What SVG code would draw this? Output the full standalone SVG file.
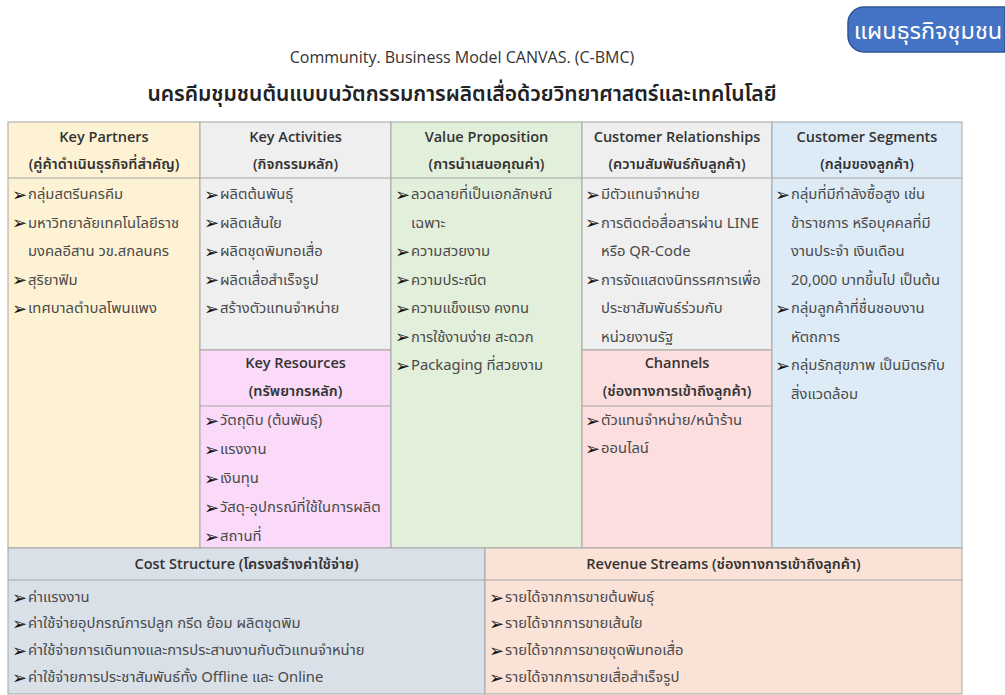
<svg xmlns="http://www.w3.org/2000/svg" width="1005" height="695" viewBox="0 0 1005 695">
<style>
.cell{stroke:#a6a6a6;stroke-width:1}
.div{stroke:#a6a6a6;stroke-width:1;fill:none}
.hd{font-family:"Open Sans","Noto Sans","Noto Sans Thai",sans-serif;font-size:14.5px;font-weight:600;fill:#333;text-anchor:middle}
.it{font-family:"Noto Sans","Noto Sans Thai",sans-serif;font-size:14.8px;fill:#4a4a4a}
.bl{font-family:"DejaVu Sans",sans-serif;font-size:18px;fill:#111}
.sub{font-family:"Open Sans","Noto Sans",sans-serif;font-size:16px;fill:#333;text-anchor:middle}
.ttl{font-family:"Noto Sans","Noto Sans Thai",sans-serif;font-size:21px;font-weight:600;fill:#222;text-anchor:middle}
</style>
<rect width="1005" height="695" fill="#ffffff"/>
<g id="badge">
<path d="M864,7 H1005 V52 H864 A16,16 0 0 1 848,36 V23 A16,16 0 0 1 864,7 Z" fill="#4472C4" stroke="#2F5597" stroke-width="1.5"/>
<text x="928" y="39" font-family="Noto Sans, Noto Sans Thai, sans-serif" font-size="23.5" fill="#ffffff" text-anchor="middle">แผนธุรกิจชุมชน</text>
</g>
<g id="title">
<text class="sub" x="462" y="63">Community. Business Model CANVAS. (C-BMC)</text>
<text class="ttl" x="462" y="101">นครคีมชุมชนต้นแบบนวัตกรรมการผลิตเสื่อด้วยวิทยาศาสตร์และเทคโนโลยี</text>
</g>
<g id="key-partners">
<rect class="cell" x="8" y="122" width="192" height="426" fill="#FEF2D4"/>
<line class="div" x1="8" y1="178" x2="200" y2="178"/>
<text class="hd" x="104" y="142">Key Partners</text>
<text class="hd" x="104" y="169">(คู่ค้าดำเนินธุรกิจที่สำคัญ)</text>
<text class="bl" x="12" y="200.5">➢</text><text class="it" x="28" y="199">กลุ่มสตรีนครคีม</text>
<text class="bl" x="12" y="229">➢</text><text class="it" x="28" y="227.5">มหาวิทยาลัยเทคโนโลยีราช</text>
<text class="it" x="28" y="256">มงคลอีสาน วข.สกลนคร</text>
<text class="bl" x="12" y="286">➢</text><text class="it" x="28" y="284.5">สุริยาฟิม</text>
<text class="bl" x="12" y="314.5">➢</text><text class="it" x="28" y="313">เทศบาลตำบลโพนแพง</text>
</g>
<g id="key-activities">
<rect class="cell" x="200" y="122" width="191" height="228" fill="#EFEFEF"/>
<line class="div" x1="200" y1="178" x2="391" y2="178"/>
<text class="hd" x="295.5" y="142">Key Activities</text>
<text class="hd" x="295.5" y="169">(กิจกรรมหลัก)</text>
<text class="bl" x="204" y="200.5">➢</text><text class="it" x="220" y="199">ผลิตต้นพันธุ์</text>
<text class="bl" x="204" y="229">➢</text><text class="it" x="220" y="227.5">ผลิตเส้นใย</text>
<text class="bl" x="204" y="257.5">➢</text><text class="it" x="220" y="256">ผลิตชุดพิมทอเสื่อ</text>
<text class="bl" x="204" y="286">➢</text><text class="it" x="220" y="284.5">ผลิตเสื่อสำเร็จรูป</text>
<text class="bl" x="204" y="314.5">➢</text><text class="it" x="220" y="313">สร้างตัวแทนจำหน่าย</text>
</g>
<g id="key-resources">
<rect class="cell" x="200" y="350" width="191" height="198" fill="#FADAF8"/>
<line class="div" x1="200" y1="406" x2="391" y2="406"/>
<text class="hd" x="295.5" y="368">Key Resources</text>
<text class="hd" x="295.5" y="396">(ทรัพยากรหลัก)</text>
<text class="bl" x="204" y="426.5">➢</text><text class="it" x="220" y="425">วัตถุดิบ (ต้นพันธุ์)</text>
<text class="bl" x="204" y="455.5">➢</text><text class="it" x="220" y="454">แรงงาน</text>
<text class="bl" x="204" y="484.5">➢</text><text class="it" x="220" y="483">เงินทุน</text>
<text class="bl" x="204" y="513.5">➢</text><text class="it" x="220" y="512">วัสดุ-อุปกรณ์ที่ใช้ในการผลิต</text>
<text class="bl" x="204" y="542.5">➢</text><text class="it" x="220" y="541">สถานที่</text>
</g>
<g id="value-proposition">
<rect class="cell" x="391" y="122" width="191" height="426" fill="#E2EFDA"/>
<line class="div" x1="391" y1="178" x2="582" y2="178"/>
<text class="hd" x="486.5" y="142">Value Proposition</text>
<text class="hd" x="486.5" y="169">(การนำเสนอคุณค่า)</text>
<text class="bl" x="395" y="200.5">➢</text><text class="it" x="411" y="199">ลวดลายที่เป็นเอกลักษณ์</text>
<text class="it" x="411" y="227.5">เฉพาะ</text>
<text class="bl" x="395" y="257.5">➢</text><text class="it" x="411" y="256">ความสวยงาม</text>
<text class="bl" x="395" y="286">➢</text><text class="it" x="411" y="284.5">ความประณีต</text>
<text class="bl" x="395" y="314.5">➢</text><text class="it" x="411" y="313">ความแข็งแรง คงทน</text>
<text class="bl" x="395" y="343">➢</text><text class="it" x="411" y="341.5">การใช้งานง่าย สะดวก</text>
<text class="bl" x="395" y="371.5">➢</text><text class="it" x="411" y="370">Packaging ที่สวยงาม</text>
</g>
<g id="customer-relationships">
<rect class="cell" x="582" y="122" width="190" height="228" fill="#EFEFEF"/>
<line class="div" x1="582" y1="178" x2="772" y2="178"/>
<text class="hd" x="677" y="142">Customer Relationships</text>
<text class="hd" x="677" y="169">(ความสัมพันธ์กับลูกค้า)</text>
<text class="bl" x="585" y="200.5">➢</text><text class="it" x="601" y="199">มีตัวแทนจำหน่าย</text>
<text class="bl" x="585" y="229">➢</text><text class="it" x="601" y="227.5">การติดต่อสื่อสารผ่าน LINE</text>
<text class="it" x="601" y="256">หรือ QR-Code</text>
<text class="bl" x="585" y="286">➢</text><text class="it" x="601" y="284.5">การจัดแสดงนิทรรศการเพื่อ</text>
<text class="it" x="601" y="313">ประชาสัมพันธ์ร่วมกับ</text>
<text class="it" x="601" y="341.5">หน่วยงานรัฐ</text>
</g>
<g id="channels">
<rect class="cell" x="582" y="350" width="190" height="198" fill="#FDDEDF"/>
<line class="div" x1="582" y1="406" x2="772" y2="406"/>
<text class="hd" x="677" y="368">Channels</text>
<text class="hd" x="677" y="396">(ช่องทางการเข้าถึงลูกค้า)</text>
<text class="bl" x="585" y="426.5">➢</text><text class="it" x="601" y="425">ตัวแทนจำหน่าย/หน้าร้าน</text>
<text class="bl" x="585" y="454.5">➢</text><text class="it" x="601" y="453">ออนไลน์</text>
</g>
<g id="customer-segments">
<rect class="cell" x="772" y="122" width="190" height="426" fill="#DDEBF7"/>
<line class="div" x1="772" y1="178" x2="962" y2="178"/>
<text class="hd" x="867" y="142">Customer Segments</text>
<text class="hd" x="867" y="169">(กลุ่มของลูกค้า)</text>
<text class="bl" x="775" y="200.5">➢</text><text class="it" x="791" y="199">กลุ่มที่มีกำลังซื้อสูง เช่น</text>
<text class="it" x="791" y="227.5">ข้าราชการ หรือบุคคลที่มี</text>
<text class="it" x="791" y="256">งานประจำ เงินเดือน</text>
<text class="it" x="791" y="284.5">20,000 บาทขึ้นไป เป็นต้น</text>
<text class="bl" x="775" y="314.5">➢</text><text class="it" x="791" y="313">กลุ่มลูกค้าที่ชื่นชอบงาน</text>
<text class="it" x="791" y="341.5">หัตถการ</text>
<text class="bl" x="775" y="371.5">➢</text><text class="it" x="791" y="370">กลุ่มรักสุขภาพ เป็นมิตรกับ</text>
<text class="it" x="791" y="398.5">สิ่งแวดล้อม</text>
</g>
<g id="cost-structure">
<rect class="cell" x="8" y="548" width="477" height="146" fill="#D9E0E8"/>
<line class="div" x1="8" y1="580" x2="485" y2="580"/>
<text class="hd" x="246.5" y="569">Cost Structure (โครงสร้างค่าใช้จ่าย)</text>
<text class="bl" x="12" y="603.5">➢</text><text class="it" x="28" y="602">ค่าแรงงาน</text>
<text class="bl" x="12" y="629.5">➢</text><text class="it" x="28" y="628">ค่าใช้จ่ายอุปกรณ์การปลูก กรีด ย้อม ผลิตชุดพิม</text>
<text class="bl" x="12" y="656.5">➢</text><text class="it" x="28" y="655">ค่าใช้จ่ายการเดินทางและการประสานงานกับตัวแทนจำหน่าย</text>
<text class="bl" x="12" y="683.5">➢</text><text class="it" x="28" y="682">ค่าใช้จ่ายการประชาสัมพันธ์ทั้ง Offline และ Online</text>
</g>
<g id="revenue-streams">
<rect class="cell" x="485" y="548" width="477" height="146" fill="#FBE2D6"/>
<line class="div" x1="485" y1="580" x2="962" y2="580"/>
<text class="hd" x="723.5" y="569">Revenue Streams (ช่องทางการเข้าถึงลูกค้า)</text>
<text class="bl" x="489" y="603.5">➢</text><text class="it" x="505" y="602">รายได้จากการขายต้นพันธุ์</text>
<text class="bl" x="489" y="629.5">➢</text><text class="it" x="505" y="628">รายได้จากการขายเส้นใย</text>
<text class="bl" x="489" y="656.5">➢</text><text class="it" x="505" y="655">รายได้จากการขายชุดพิมทอเสื่อ</text>
<text class="bl" x="489" y="683.5">➢</text><text class="it" x="505" y="682">รายได้จากการขายเสื่อสำเร็จรูป</text>
</g>
<g id="connectors"/>
</svg>
